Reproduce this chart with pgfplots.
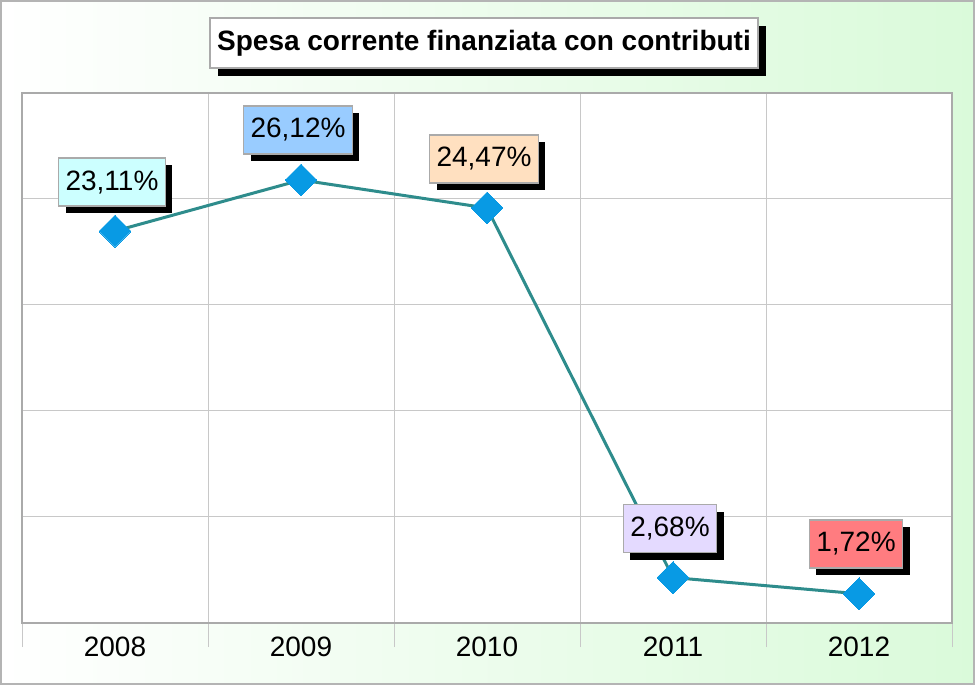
\documentclass[border=0pt]{standalone}
\usepackage{pgfplots}
\pgfplotsset{compat=1.18}
\usepackage{fontspec}
\setmainfont{Liberation Sans}
\usetikzlibrary{shadows}

\definecolor{gridc}{RGB}{200,200,200}
\definecolor{axisc}{RGB}{170,170,170}
\definecolor{outerc}{RGB}{180,180,180}
\definecolor{bgg}{RGB}{218,250,218}
\definecolor{linec}{RGB}{46,140,140}
\definecolor{markc}{RGB}{8,154,228}
\definecolor{lblb}{RGB}{170,170,170}
\definecolor{cA}{RGB}{204,255,255}
\definecolor{cB}{RGB}{153,204,255}
\definecolor{cC}{RGB}{255,224,192}
\definecolor{cD}{RGB}{228,218,255}
\definecolor{cE}{RGB}{255,124,128}

\tikzset{lbl/.style={draw=lblb, line width=1.5pt, inner xsep=7pt, minimum height=48pt,
  font=\fontsize{28}{32}\selectfont, text=black,
  drop shadow={fill=black, opacity=1, shadow xshift=7pt, shadow yshift=-7pt}}}

\begin{document}
\begin{tikzpicture}
\shade[left color=white, right color=bgg] (0pt,0pt) rectangle (975pt,685pt);
\draw[color=outerc, line width=2pt] (1pt,1pt) rectangle (974pt,684pt);
\node[draw=lblb, line width=1.5pt, fill=white, minimum width=548pt, minimum height=50pt,
  font=\bfseries\fontsize{28}{32}\selectfont,
  drop shadow={fill=black, opacity=1, shadow xshift=8pt, shadow yshift=-8pt}]
  at (484pt,642pt) {Spesa corrente finanziata con contributi};
\begin{axis}[
  at={(22pt,62pt)}, anchor=south west, scale only axis,
  width=930pt, height=530pt,
  xmin=-0.5, xmax=4.5, ymin=0, ymax=31.25,
  ytick={0,6.25,12.5,18.75,25,31.25}, yticklabels={},
  ymajorgrids,
  xtick={0,1,2,3,4}, xticklabels={2008,2009,2010,2011,2012},
  minor xtick={-0.5,0.5,1.5,2.5,3.5,4.5}, xminorgrids,
  major tick length=0pt, minor tick length=24pt, tick align=outside,
  xtick pos=bottom, ytick pos=left,
  tick style={draw=gridc, line width=1pt},
  grid style={draw=gridc, line width=1pt},
  minor grid style={draw=gridc, line width=1pt},
  axis line style={draw=axisc, line width=1.5pt},
  axis background/.style={fill=white},
  xticklabel style={font=\fontsize{28}{32}\selectfont, anchor=base, yshift=-34pt},
  clip=false,
]
\addplot[color=linec, line width=3pt, mark=square*, mark size=11.3pt,
  mark options={fill=markc, draw=markc, rotate=45, line width=0pt}]
  coordinates {(0,23.11) (1,26.12) (2,24.47) (3,2.68) (4,1.72)};
\node[lbl, fill=cA, xshift=-3pt, yshift=49pt] at (axis cs:0,23.11) {23,11\%};
\node[lbl, fill=cB, xshift=-3pt, yshift=50pt] at (axis cs:1,26.12) {26,12\%};
\node[lbl, fill=cC, xshift=-3pt, yshift=49pt] at (axis cs:2,24.47) {24,47\%};
\node[lbl, fill=cD, xshift=-3pt, yshift=49pt] at (axis cs:3,2.68) {2,68\%};
\node[lbl, fill=cE, xshift=-3pt, yshift=50pt] at (axis cs:4,1.72) {1,72\%};
\end{axis}
\end{tikzpicture}
\end{document}
